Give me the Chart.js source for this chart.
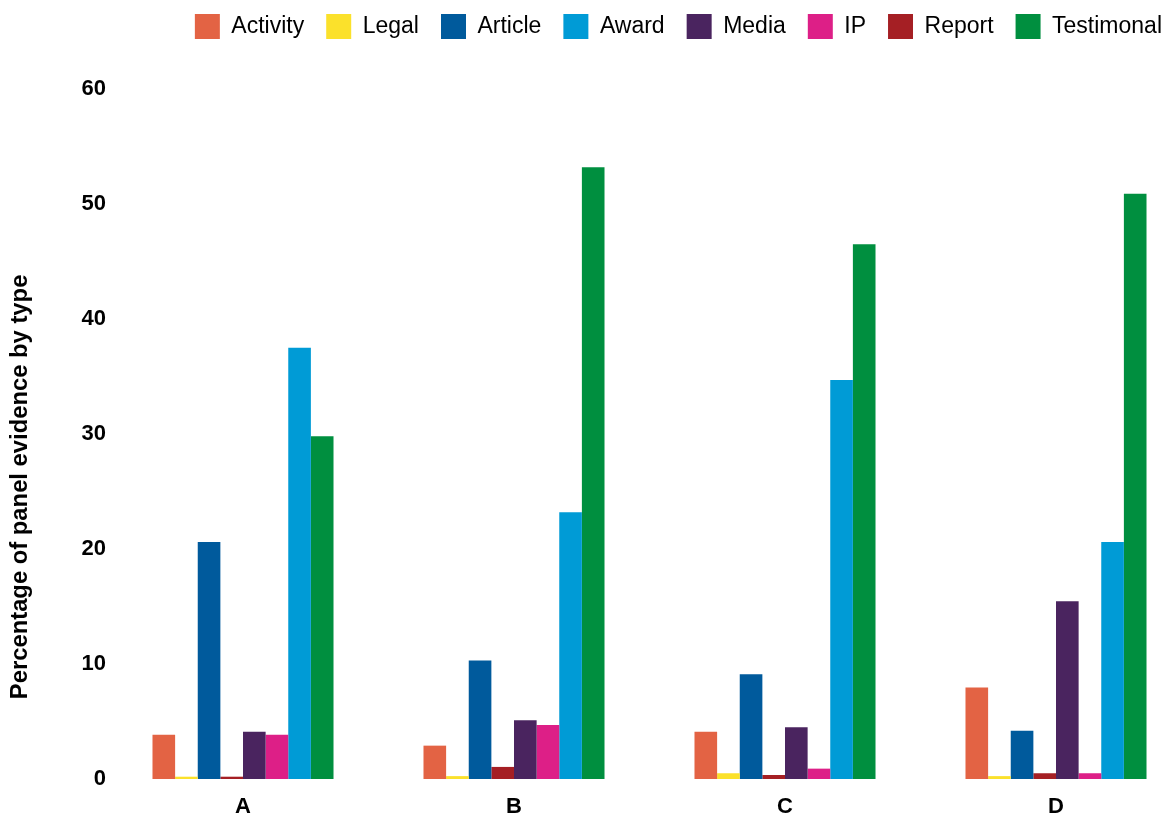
<!DOCTYPE html>
<html>
<head>
<meta charset="utf-8">
<script src="https://cdn.jsdelivr.net/npm/chart.js@4"></script>
<style>
  body { margin: 0; background: #fff; overflow: hidden; }
  #wrap { width: 1166px; height: 816px; }
</style>
</head>
<body>
<div id="wrap"><canvas id="myChart"></canvas></div>
<script>
// panels
const panels = ['A', 'B', 'C', 'D']

// percentage of evidence per type, one value per panel
const activity   = [3.85, 2.9, 4.1, 7.95]
const legal      = [0.2, 0.25, 0.5, 0.25]
const article    = [20.6, 10.3, 9.1, 4.2]
const report     = [0.2, 1.05, 0.35, 0.5]
const media      = [4.1, 5.1, 4.5, 15.45]
const ip         = [3.85, 4.7, 0.9, 0.5]
const award      = [37.5, 23.2, 34.7, 20.6]
const testimonal = [29.8, 53.2, 46.5, 50.9]

const yTicks = [0, 10, 20, 30, 40, 50, 60]

// order used in the legend (bars are drawn in a different order)
const legendOrder = ['Activity', 'Legal', 'Article', 'Award', 'Media', 'IP', 'Report', 'Testimonal']

// title sits a bit below the middle of the axis in the original, the trailing nbsp push it down
const yTitle = 'Percentage of panel evidence by type' + '\u00a0'.repeat(16)

Chart.defaults.font.family = "'Liberation Sans', Arial, sans-serif"
Chart.defaults.color = '#000'

// extra room under the legend
const legendGap = {
  id: 'legendGap',
  beforeInit: function(chart) {
    const fit = chart.legend.fit
    chart.legend.fit = function() {
      fit.bind(chart.legend)()
      this.height += 40
    }
  }
}

var ctx = document.getElementById('myChart').getContext('2d')
var chart = new Chart(ctx, {
  type: 'bar',
  data: {
    labels: panels,
    datasets: [
      { label: 'Activity', backgroundColor: '#E36344', data: activity },
      { label: 'Legal', backgroundColor: '#FBE12B', data: legal },
      { label: 'Article', backgroundColor: '#005A9C', data: article },
      { label: 'Report', backgroundColor: '#A51F24', data: report },
      { label: 'Media', backgroundColor: '#4A245F', data: media },
      { label: 'IP', backgroundColor: '#DD1F87', data: ip },
      { label: 'Award', backgroundColor: '#009BD6', data: award },
      { label: 'Testimonal', backgroundColor: '#008F3F', data: testimonal }
    ]
  },
  plugins: [legendGap],
  options: {
    responsive: true,
    maintainAspectRatio: false,
    animation: false,
    datasets: {
      bar: { categoryPercentage: 0.668, barPercentage: 1, clip: false }
    },
    layout: { padding: { top: -8, left: 6, right: -18, bottom: 0 } },
    plugins: {
      tooltip: { enabled: false },
      legend: {
        position: 'top',
        align: 'end',
        labels: {
          boxWidth: 25,
          boxHeight: 25,
          padding: 22,
          font: { size: 23 },
          sort: function(a, b) {
            return legendOrder.indexOf(a.text) - legendOrder.indexOf(b.text)
          }
        }
      }
    },
    scales: {
      x: {
        offset: false,
        grid: { display: false, drawTicks: false },
        border: { display: false },
        ticks: { font: { size: 22, weight: 'bold' }, padding: 15 },
        afterFit: function(axis) { axis.height = 37 }
      },
      y: {
        min: 0,
        max: 60,
        weight: 1,
        afterBuildTicks: function(axis) {
          axis.ticks = yTicks.map(function(v) { return { value: v } })
        },
        afterFit: function(axis) { axis.width = 108 },
        grid: { display: false, drawTicks: false },
        border: { display: false },
        ticks: { font: { size: 22, weight: 'bold' }, padding: 8 },
        title: {
          display: true,
          text: yTitle,
          font: { size: 23.8, weight: 'bold' },
          padding: { top: 0, bottom: 0 }
        }
      },
      // empty axes, only used to place the plot area
      gapLeft: {
        position: 'left',
        weight: 0,
        grid: { display: false, drawTicks: false },
        border: { display: false },
        ticks: { display: false },
        afterFit: function(axis) { axis.width = 129 }
      },
      gapRight: {
        position: 'right',
        grid: { display: false, drawTicks: false },
        border: { display: false },
        ticks: { display: false },
        afterFit: function(axis) { axis.width = 128 }
      }
    }
  }
})
</script>
</body>
</html>
